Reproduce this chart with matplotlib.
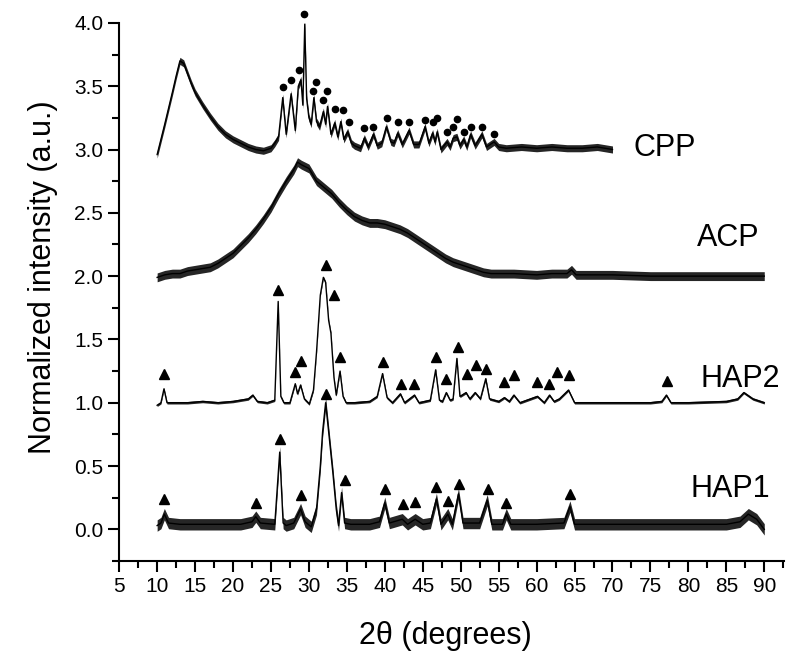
import numpy as np
import matplotlib
matplotlib.use("Agg")
import matplotlib.pyplot as plt
from matplotlib.ticker import MultipleLocator

plt.rcParams['font.family'] = ['Liberation Sans', 'DejaVu Sans']

# ---- data (2theta, normalized intensity) ----
cpp_x = [10.0, 11.0, 12.0, 12.5, 13.0, 13.5, 14.0, 14.5, 15.0, 16.0, 17.0, 18.0, 19.0, 20.0,
         21.0, 22.0, 23.0, 24.0, 25.0, 25.5, 26.0, 26.55, 27.0, 27.65, 28.2, 28.6, 28.95, 29.2,
         29.45, 29.7, 30.0, 30.3, 30.65, 31.0, 31.4, 31.9, 32.2, 32.45, 32.9, 33.4, 33.8, 34.2,
         34.6, 35.1, 35.6, 36.0, 36.8, 37.3, 37.8, 38.5, 39.0, 39.6, 40.2, 40.8, 41.2, 41.7,
         42.3, 43.2, 43.8, 44.5, 45.3, 45.8, 46.3, 46.6, 46.9, 47.4, 48.2, 48.6, 49.0, 49.5,
         49.9, 50.4, 50.8, 51.3, 51.9, 52.8, 53.4, 54.4, 55.0, 56.0, 58.0, 60.0, 62.0, 64.0,
         66.0, 68.0, 70.0]
cpp_y = [2.96, 3.20, 3.45, 3.58, 3.70, 3.68, 3.60, 3.52, 3.45, 3.35, 3.26, 3.18, 3.12, 3.08,
         3.05, 3.02, 3.00, 2.99, 3.01, 3.05, 3.10, 3.41, 3.12, 3.44, 3.15, 3.50, 3.55, 3.35,
         3.99, 3.40, 3.25, 3.20, 3.41, 3.22, 3.18, 3.30, 3.20, 3.34, 3.12, 3.21, 3.10, 3.22,
         3.08, 3.14, 3.05, 3.03, 3.01, 3.09, 3.02, 3.12, 3.03, 3.05, 3.18, 3.06, 3.05, 3.13,
         3.04, 3.15, 3.04, 3.04, 3.18, 3.05, 3.13, 3.06, 3.14, 3.00, 3.06, 3.02, 3.09, 3.10,
         3.03, 3.08, 3.02, 3.12, 3.03, 3.12, 3.02, 3.06, 3.02, 3.01, 3.02, 3.01, 3.02, 3.01,
         3.01, 3.02, 3.00]
cpp_dot_x = [26.55, 27.65, 28.65, 29.4, 30.5, 30.95, 31.9, 32.4, 33.45, 34.45, 35.25, 37.3,
             38.5, 40.25, 41.75, 43.15, 45.3, 46.3, 46.9, 48.2, 49.05, 49.5, 50.45, 51.3,
             52.8, 54.45]
cpp_dot_y = [3.49, 3.55, 3.63, 4.07, 3.46, 3.53, 3.39, 3.46, 3.32, 3.31, 3.22, 3.17,
             3.18, 3.25, 3.22, 3.22, 3.23, 3.22, 3.25, 3.14, 3.18, 3.24, 3.14, 3.18,
             3.18, 3.12]

acp_x = [10, 11, 12, 13, 14, 15, 16, 17, 18, 19, 20, 21, 22, 23, 24, 25, 26, 27, 28, 28.5,
         29, 30, 31, 32, 33, 34, 35, 36, 37, 38, 39, 40, 41, 42, 43, 44, 45, 46, 47, 48, 49,
         50, 51, 52, 53, 54, 55, 57, 60, 62, 64, 64.6, 65.2, 67, 70, 75, 80, 85, 90]
acp_y = [1.99, 2.01, 2.02, 2.02, 2.04, 2.05, 2.06, 2.07, 2.10, 2.14, 2.18, 2.24, 2.30, 2.37,
         2.45, 2.54, 2.65, 2.75, 2.84, 2.90, 2.88, 2.85, 2.75, 2.70, 2.65, 2.58, 2.52, 2.47,
         2.44, 2.42, 2.42, 2.41, 2.39, 2.37, 2.34, 2.30, 2.26, 2.22, 2.18, 2.14, 2.11, 2.09,
         2.07, 2.05, 2.03, 2.02, 2.02, 2.02, 2.01, 2.02, 2.02, 2.05, 2.01, 2.01, 2.01, 2.00,
         2.00, 2.00, 2.00]

hap2_x = [10.0, 10.5, 10.9, 11.3, 12, 14, 16, 18, 20, 22, 22.6, 23.2, 24.5, 25.5, 25.95, 26.3,
          26.7, 27.5, 28.2, 28.5, 28.9, 29.4, 30.05, 30.6, 31.0, 31.5, 31.9, 32.2, 32.6, 32.9,
          33.3, 33.6, 34.1, 34.5, 34.9, 36, 38, 39.0, 39.7, 40.3, 41, 42.05, 42.6, 43.9, 44.5,
          46.0, 46.7, 47.2, 47.6, 48.1, 48.6, 49.0, 49.5, 49.9, 50.7, 51.2, 51.9, 52.6, 53.3,
          53.8, 55.0, 55.75, 56.4, 57.0, 57.8, 60.1, 61.0, 61.7, 62.3, 63.0, 64.2, 65.0, 70,
          75, 76.5, 77.1, 77.7, 80, 85, 86.5, 87.3, 88.5, 90]
hap2_y = [0.98, 1.00, 1.11, 1.00, 1.00, 1.00, 1.01, 1.00, 1.01, 1.03, 1.06, 1.01, 1.00, 1.02,
          1.80, 1.05, 1.00, 1.00, 1.15, 1.07, 1.14, 1.03, 0.99, 1.10, 1.40, 1.85, 1.99, 1.95,
          1.65, 1.55, 1.20, 1.06, 1.25, 1.05, 1.00, 1.00, 1.01, 1.05, 1.23, 1.04, 1.00, 1.07,
          1.00, 1.06, 1.00, 1.02, 1.26, 1.02, 1.01, 1.08, 1.02, 1.03, 1.35, 1.05, 1.08, 1.03,
          1.08, 1.03, 1.19, 1.03, 1.01, 1.04, 1.01, 1.06, 1.00, 1.05, 1.00, 1.06, 1.01, 1.03,
          1.10, 1.00, 1.00, 1.00, 1.01, 1.06, 1.00, 1.00, 1.01, 1.03, 1.08, 1.03, 1.00]
hap2_tri_x = [10.9, 25.9, 28.2, 28.9, 32.2, 33.35, 34.1, 39.7, 42.1, 43.9, 46.7, 48.1, 49.6,
              50.85, 51.95, 53.35, 55.75, 57.0, 60.1, 61.7, 62.75, 64.3, 77.2]
hap2_tri_y = [1.23, 1.89, 1.24, 1.33, 2.09, 1.85, 1.36, 1.32, 1.15, 1.15, 1.365, 1.19, 1.44,
              1.23, 1.30, 1.27, 1.16, 1.22, 1.16, 1.15, 1.24, 1.22, 1.17]

hap1_x = [10.0, 10.5, 10.95, 11.5, 13, 15, 17, 19, 21, 22.5, 23.0, 23.6, 25.5, 26.15, 26.6,
          27.0, 28.0, 28.9, 29.5, 30.3, 31.0, 31.5, 31.8, 32.2, 32.6, 33.15, 33.6, 33.9, 34.3,
          34.7, 35.5, 38, 39.3, 40.0, 40.6, 42.3, 43, 44.0, 45, 46.0, 46.8, 47.4, 48.3, 48.9,
          49.7, 50.3, 52.5, 53.5, 54.1, 55.5, 56.0, 56.6, 60, 63.6, 64.4, 65.0, 70, 75, 80,
          85, 86.8, 87.9, 89, 90]
hap1_y = [0.03, 0.05, 0.12, 0.05, 0.04, 0.04, 0.04, 0.04, 0.04, 0.06, 0.10, 0.05, 0.04, 0.61,
          0.05, 0.03, 0.05, 0.16, 0.06, 0.02, 0.16, 0.50, 0.77, 1.00, 0.77, 0.45, 0.16, 0.03,
          0.29, 0.05, 0.04, 0.04, 0.06, 0.21, 0.05, 0.08, 0.04, 0.08, 0.04, 0.05, 0.24, 0.04,
          0.12, 0.04, 0.28, 0.05, 0.05, 0.23, 0.04, 0.04, 0.12, 0.04, 0.04, 0.05, 0.18, 0.04,
          0.04, 0.04, 0.04, 0.04, 0.06, 0.12, 0.08, 0.00]
hap1_tri_x = [10.95, 23.0, 26.15, 28.9, 32.25, 34.7, 40.0, 42.4, 44.0, 46.7, 48.3, 49.75,
              53.6, 56.0, 64.4]
hap1_tri_y = [0.24, 0.21, 0.71, 0.27, 1.07, 0.39, 0.32, 0.20, 0.22, 0.335, 0.225, 0.36,
              0.32, 0.21, 0.28]

# half-width of the noise band of each trace
noise = {'CPP': 0.028, 'ACP': 0.035, 'HAP2': 0.01, 'HAP1': 0.045}

labels = ['CPP', 'ACP', 'HAP2', 'HAP1']
label_pos = [(76.9, 3.01), (85.2, 2.30), (86.8, 1.19), (85.5, 0.32)]

fig = plt.figure(figsize=(8, 6.69), dpi=100)
ax = fig.add_axes([0.149, 0.1614, 0.831, 0.8044])

series = [(cpp_x, cpp_y), (acp_x, acp_y), (hap2_x, hap2_y), (hap1_x, hap1_y)]
for name, (x, y) in zip(labels, series):
    x = np.array(x)
    y = np.array(y)
    a = noise[name]
    ax.fill_between(x, y - a, y + a, color='black', alpha=0.85, linewidth=0)
    ax.plot(x, y, color='black', lw=1.0)

ax.plot(cpp_dot_x, cpp_dot_y, 'o', color='black', ms=4.5, clip_on=False)
ax.plot(hap2_tri_x, hap2_tri_y, '^', color='black', ms=6.5, clip_on=False)
ax.plot(hap1_tri_x, hap1_tri_y, '^', color='black', ms=6.5, clip_on=False)

for name, (tx, ty) in zip(labels, label_pos):
    ax.text(tx, ty, name, fontsize=22, ha='center', va='center')

ax.set_xlim(5, 92.6)
ax.set_ylim(-0.25, 4.0)
ax.xaxis.set_major_locator(MultipleLocator(5))
ax.xaxis.set_minor_locator(MultipleLocator(2.5))
ax.yaxis.set_major_locator(MultipleLocator(0.5))
ax.yaxis.set_minor_locator(MultipleLocator(0.25))
ax.yaxis.set_major_formatter(matplotlib.ticker.FormatStrFormatter('%.1f'))

for s in ['top', 'right']:
    ax.spines[s].set_visible(False)
for s in ['left', 'bottom']:
    ax.spines[s].set_linewidth(1.5)

ax.tick_params(which='major', direction='out', length=8, width=1.5, labelsize=15)
ax.tick_params(which='minor', direction='out', length=5, width=1.5)

ax.set_xlabel('2\u03b8 (degrees)', fontsize=22, va='center')
ax.xaxis.set_label_coords(0.49, -0.139)
ax.set_ylabel('Normalized intensity (a.u.)', fontsize=22, va='center')
ax.yaxis.set_label_coords(-0.115, 0.527)

fig.savefig('out.png', dpi=100)
